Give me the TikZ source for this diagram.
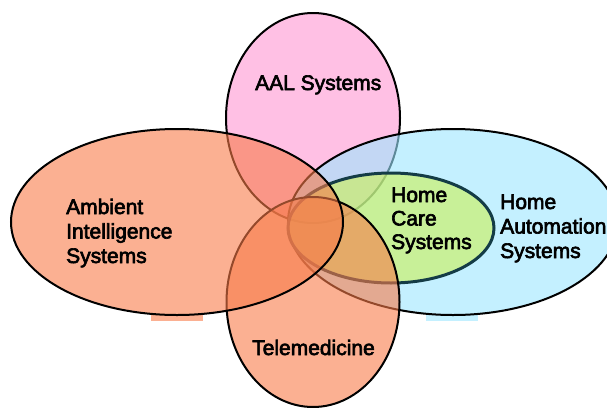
\documentclass[tikz,border=0pt]{standalone}
\usepackage{fontspec}
\setmainfont{Liberation Sans}
\newfontfamily\setfont{Liberation Sans}[FakeBold=3]
\usetikzlibrary{shapes.geometric}
\definecolor{aalpink}{RGB}{255,150,210}
\definecolor{amisalmon}{RGB}{248,123,73}
\definecolor{hacyan}{RGB}{157,230,255}
\definecolor{hcgreen}{RGB}{203,240,83}
\definecolor{hcline}{RGB}{20,60,70}
\definecolor{barsalmon}{RGB}{251,176,146}
\definecolor{barcyan}{RGB}{196,240,255}

\begin{document}
\begin{tikzpicture}[x=1pt,y=-1pt,
    setshape/.style={ellipse, draw, line width=2pt, fill opacity=0.6, inner sep=0pt},
    settext/.style={anchor=base west, inner sep=0pt, align=left,
      font=\setfont\fontsize{21}{24.5}\selectfont}]
            \useasboundingbox (0,0) rectangle (607,407);

            \fill[barsalmon] (151,315) rectangle (203,321);
            \fill[barcyan] (426,315) rectangle (478,321);

            \node[setshape, fill=aalpink, minimum width=174pt, minimum height=210pt] (aal) at (313,118) {};
            \node[setshape, fill=hacyan, minimum width=330pt, minimum height=186pt] (ha) at (453,222) {};
            \node[setshape, fill=hcgreen, draw=hcline, line width=3pt, minimum width=206pt, minimum height=110pt] (hc) at (391,228) {};
            \node[setshape, fill=amisalmon, minimum width=173pt, minimum height=210pt] (tm) at (313,302) {};
            \node[setshape, fill=amisalmon, minimum width=332pt, minimum height=186pt] (ami) at (177,222) {};

            % base anchor sits on the last line
            \node[settext] (aaltext) at (255,90) {AAL Systems};
            \node[settext] (amitext) at (66,263) {Ambient\\Intelligence\\Systems};
            \node[settext, font=\setfont\fontsize{21}{23.5}\selectfont] (hctext) at (391,249) {Home\\Care\\Systems};
            \node[settext] (hatext) at (500,258) {Home\\Automation\\Systems};
            \node[settext] (tmtext) at (252,355) {Telemedicine};
        \end{tikzpicture}
\end{document}
